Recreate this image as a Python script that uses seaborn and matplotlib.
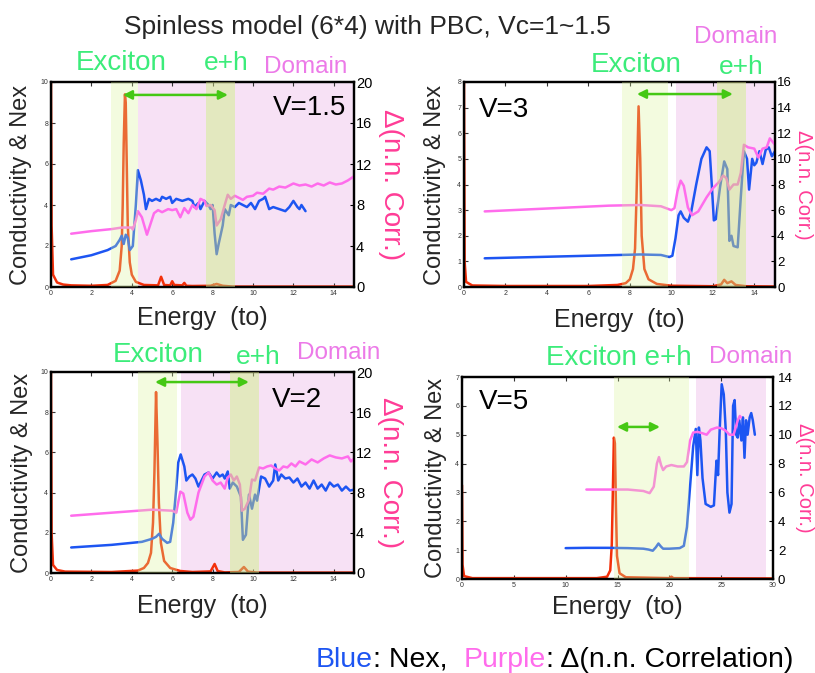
import matplotlib
matplotlib.use("Agg")
import matplotlib.pyplot as plt
import pandas as pd
import seaborn as sns

sns.set_theme(style="white")
plt.rcParams['font.family'] = ['Liberation Sans', 'DejaVu Sans']

# ---------------- data ----------------
# V = 1.5
cond_v15 = [(0, 10), (0.03, 3.0), (0.1, 0.6), (0.3, 0.22), (0.6, 0.12), (1.0, 0.08), (2.0, 0.06),
            (2.8, 0.1), (3.2, 0.3), (3.4, 0.8), (3.5, 2.0), (3.55, 4.0), (3.6, 7.0), (3.66, 9.4),
            (3.7, 9.0), (3.75, 6.0), (3.8, 3.0), (3.9, 1.2), (4.0, 0.6), (4.2, 0.25), (4.6, 0.1),
            (5.3, 0.08), (5.45, 0.5), (5.6, 0.1), (5.9, 0.08), (6.0, 0.28), (6.1, 0.1), (6.5, 0.08),
            (6.6, 0.2), (6.7, 0.06), (7.0, 0.05), (7.9, 0.06), (8.2, 0.15), (8.5, 0.06), (9.0, 0.02),
            (15.0, 0.02)]
nex_v15 = [(1.0, 1.35), (2.0, 1.55), (2.8, 1.8), (3.2, 2.0), (3.4, 2.3), (3.5, 2.5), (3.6, 2.1),
           (3.7, 2.55), (3.8, 2.4), (3.9, 1.8), (4.05, 2.0), (4.2, 4.0), (4.3, 5.7), (4.45, 5.2),
           (4.6, 4.5), (4.7, 3.8), (4.85, 4.3), (5.0, 4.2), (5.2, 4.3), (5.4, 4.2), (5.5, 4.4),
           (5.7, 4.3), (5.9, 4.4), (6.0, 4.1), (6.2, 4.3), (6.5, 4.2), (6.8, 4.3), (7.0, 4.2),
           (7.1, 3.9), (7.3, 4.1), (7.4, 3.8), (7.6, 4.2), (7.8, 4.0), (7.9, 3.8), (8.0, 4.0),
           (8.1, 2.6), (8.2, 1.6), (8.3, 2.1), (8.5, 3.0), (8.6, 3.8), (8.8, 3.5), (8.9, 4.0),
           (9.1, 3.9), (9.3, 4.1), (9.5, 4.0), (9.7, 3.9), (9.9, 4.1), (10.1, 3.8), (10.3, 4.2),
           (10.5, 4.3), (10.6, 4.4), (10.8, 3.8), (11.0, 3.9), (11.3, 3.8), (11.6, 3.7), (11.8, 3.9),
           (12.0, 4.2), (12.2, 3.9), (12.3, 3.8), (12.4, 4.0), (12.6, 3.7)]
corr_v15 = [(1.0, 5.2), (2.0, 5.45), (3.0, 5.65), (3.5, 5.8), (4.0, 5.8), (4.05, 5.6), (4.2, 6.5),
            (4.3, 7.4), (4.5, 6.8), (4.75, 5.1), (4.9, 6.0), (5.1, 7.2), (5.3, 7.5), (5.5, 7.3),
            (5.8, 7.6), (6.0, 7.5), (6.2, 7.6), (6.4, 6.8), (6.6, 7.7), (6.8, 7.2), (7.0, 8.0),
            (7.2, 7.6), (7.4, 8.6), (7.6, 8.4), (7.7, 7.9), (7.9, 8.0), (8.1, 7.5), (8.2, 6.0),
            (8.4, 6.6), (8.6, 8.0), (8.75, 9.0), (8.9, 8.6), (9.1, 8.9), (9.3, 8.7), (9.5, 8.5),
            (9.7, 8.8), (10.0, 8.9), (10.2, 9.2), (10.5, 9.1), (10.8, 9.6), (11.0, 9.5), (11.3, 9.8),
            (11.6, 9.7), (12.0, 10.1), (12.3, 9.9), (12.6, 10.0), (12.9, 9.8), (13.2, 10.1),
            (13.5, 9.9), (13.8, 10.2), (14.1, 10.0), (14.4, 10.1), (14.7, 10.4), (15.0, 10.8)]

# V = 3
cond_v3 = [(0, 8.0), (0.03, 1.0), (0.1, 0.2), (0.4, 0.06), (2.0, 0.04), (6.0, 0.04), (7.4, 0.08),
           (7.8, 0.15), (8.0, 0.3), (8.15, 0.7), (8.25, 1.5), (8.32, 3.5), (8.42, 7.05), (8.5, 5.0),
           (8.57, 2.0), (8.7, 0.7), (8.9, 0.3), (9.3, 0.12), (10.0, 0.05), (12.0, 0.03), (12.4, 0.1),
           (12.55, 0.28), (12.7, 0.15), (12.9, 0.22), (13.1, 0.08), (13.6, 0.03), (15.0, 0.02)]
nex_v3 = [(1.0, 1.12), (3.0, 1.16), (5.0, 1.2), (7.0, 1.24), (8.5, 1.27), (9.5, 1.25), (9.9, 1.17),
          (10.05, 1.22), (10.2, 1.9), (10.35, 2.8), (10.45, 2.95), (10.6, 2.7), (10.8, 2.55),
          (10.95, 2.9), (11.2, 4.0), (11.45, 5.0), (11.7, 5.45), (11.85, 5.3), (11.95, 4.0),
          (12.05, 2.6), (12.15, 2.65), (12.35, 3.9), (12.55, 4.9), (12.7, 4.6), (12.8, 1.8),
          (12.9, 2.0), (13.0, 1.6), (13.2, 1.55), (13.35, 3.5), (13.5, 5.3), (13.65, 5.0),
          (13.75, 3.8), (13.9, 5.0), (14.0, 4.75), (14.1, 4.85), (14.25, 5.3), (14.4, 4.8),
          (14.55, 5.35), (14.7, 5.45), (14.85, 5.1), (15.0, 5.3)]
corr_v3 = [(1.0, 5.9), (3.0, 6.05), (5.0, 6.2), (7.0, 6.35), (8.5, 6.4), (9.5, 6.3), (10.0, 6.0),
           (10.15, 6.15), (10.3, 7.5), (10.45, 8.3), (10.6, 7.9), (10.8, 6.2), (11.0, 5.6),
           (11.3, 5.9), (11.7, 7.0), (12.0, 7.7), (12.3, 8.2), (12.5, 8.7), (12.65, 8.5),
           (12.8, 7.6), (13.0, 8.0), (13.2, 8.0), (13.35, 8.9), (13.5, 11.1), (13.7, 10.9),
           (14.0, 10.8), (14.2, 10.1), (14.4, 10.8), (14.6, 10.9), (14.75, 11.6), (15.0, 11.1)]

# V = 2
cond_v2 = [(0, 10), (0.03, 2.0), (0.1, 0.4), (0.3, 0.15), (0.7, 0.07), (3.0, 0.05), (4.3, 0.12),
           (4.6, 0.25), (4.8, 0.5), (4.95, 1.0), (5.05, 2.5), (5.12, 5.0), (5.2, 9.0), (5.27, 6.5),
           (5.34, 3.5), (5.44, 1.5), (5.6, 0.6), (5.9, 0.25), (6.4, 0.1), (7.0, 0.05), (7.9, 0.08),
           (8.1, 0.45), (8.25, 0.1), (8.6, 0.03), (9.3, 0.05), (9.55, 0.3), (9.75, 0.07),
           (10.2, 0.02), (15.0, 0.02)]
nex_v2 = [(1.0, 1.27), (3.0, 1.4), (4.5, 1.55), (5.0, 1.7), (5.2, 1.8), (5.35, 1.95), (5.5, 1.7),
          (5.75, 1.5), (5.9, 1.55), (6.05, 2.5), (6.2, 4.2), (6.3, 5.5), (6.42, 5.9), (6.6, 5.3),
          (6.7, 4.6), (6.85, 4.8), (7.0, 4.9), (7.15, 4.7), (7.3, 4.3), (7.45, 4.6), (7.6, 4.9),
          (7.8, 5.0), (8.0, 4.7), (8.2, 5.0), (8.35, 4.8), (8.5, 4.9), (8.6, 4.7), (8.75, 5.05),
          (8.85, 4.2), (9.0, 4.5), (9.2, 4.3), (9.4, 3.8), (9.5, 1.65), (9.65, 1.9), (9.8, 3.9),
          (9.95, 3.2), (10.1, 3.9), (10.2, 3.6), (10.4, 4.8), (10.6, 4.7), (10.8, 4.3), (11.0, 4.6),
          (11.1, 5.4), (11.25, 4.6), (11.4, 4.9), (11.6, 4.7), (11.8, 4.75), (12.0, 4.5),
          (12.2, 4.7), (12.4, 4.3), (12.6, 4.5), (12.8, 4.2), (13.0, 4.6), (13.2, 4.2), (13.4, 4.4),
          (13.6, 4.1), (13.8, 4.5), (14.0, 4.3), (14.2, 4.4), (14.4, 4.1), (14.6, 4.3), (14.8, 4.1),
          (15.0, 4.15)]
corr_v2 = [(1.0, 5.7), (3.0, 6.0), (5.0, 6.3), (6.0, 6.2), (6.2, 6.0), (6.4, 8.1), (6.55, 7.9),
           (6.75, 6.0), (6.9, 5.3), (7.05, 5.6), (7.3, 8.0), (7.6, 9.6), (7.8, 10.0), (8.0, 9.2),
           (8.2, 8.8), (8.4, 9.0), (8.6, 8.4), (8.75, 9.5), (8.9, 9.8), (9.05, 9.2), (9.2, 9.6),
           (9.35, 8.8), (9.45, 6.2), (9.6, 6.4), (9.8, 7.3), (9.95, 9.3), (10.1, 9.2), (10.3, 10.5),
           (10.5, 10.4), (10.7, 10.6), (10.9, 10.7), (11.1, 10.4), (11.3, 10.2), (11.5, 10.6),
           (11.7, 10.5), (11.9, 10.9), (12.1, 10.6), (12.3, 11.1), (12.6, 10.8), (12.9, 11.3),
           (13.2, 11.0), (13.5, 11.4), (13.8, 11.7), (14.1, 11.5), (14.4, 11.4), (14.7, 11.6),
           (14.85, 11.1), (15.0, 11.4)]

# V = 5
cond_v5 = [(0, 3.25), (0.05, 0.5), (0.2, 0.1), (1.0, 0.03), (13.0, 0.03), (14.0, 0.08), (14.3, 0.3),
           (14.45, 1.2), (14.55, 3.0), (14.65, 4.9), (14.75, 4.7), (14.85, 2.5), (14.95, 0.8),
           (15.2, 0.2), (15.8, 0.06), (20.0, 0.03), (20.2, 0.08), (20.4, 0.03), (30.0, 0.02)]
nex_v5 = [(10.0, 1.07), (12.0, 1.08), (14.0, 1.08), (16.0, 1.07), (17.5, 1.05), (18.0, 1.02),
          (18.4, 0.98), (18.7, 1.1), (18.95, 1.23), (19.2, 1.12), (19.4, 1.05), (20.0, 1.05),
          (21.0, 1.07), (21.4, 1.15), (21.7, 1.8), (22.0, 3.2), (22.3, 4.6), (22.55, 5.2),
          (22.7, 3.6), (22.85, 5.25), (23.0, 4.8), (23.2, 3.5), (23.5, 2.6), (24.0, 2.5),
          (24.3, 2.55), (24.45, 3.5), (24.55, 4.1), (24.7, 3.6), (24.85, 5.1), (25.05, 6.75),
          (25.25, 6.4), (25.45, 5.1), (25.6, 3.0), (25.8, 2.3), (26.0, 2.6), (26.15, 6.0),
          (26.3, 6.2), (26.45, 5.0), (26.6, 4.9), (26.75, 5.5), (26.95, 4.8), (27.1, 5.6),
          (27.25, 4.2), (27.4, 5.5), (27.55, 5.0), (27.75, 5.6), (27.9, 5.75), (28.05, 5.5),
          (28.25, 5.0)]
corr_v5 = [(12.0, 6.2), (14.0, 6.2), (16.0, 6.2), (17.5, 6.1), (18.1, 5.95), (18.5, 6.4),
           (18.8, 8.0), (19.0, 8.45), (19.2, 7.9), (19.4, 7.55), (19.7, 7.8), (20.2, 7.9),
           (20.8, 7.8), (21.4, 7.8), (21.7, 8.1), (22.0, 9.6), (22.3, 10.15), (22.7, 10.2),
           (23.2, 10.1), (23.6, 10.0), (24.0, 10.35), (24.6, 10.5), (25.0, 10.45), (25.4, 10.3),
           (25.8, 10.0), (26.2, 10.0), (26.4, 10.5), (26.6, 11.0), (26.8, 11.3), (26.9, 11.2)]

# energy bands (exciton, domain pieces, e+h) and arrow spans
bands_v15 = dict(exciton=(2.97, 4.31), domain=[(4.31, 7.67), (9.11, 15.0)], eh=(7.67, 9.11))
bands_v3 = dict(exciton=(7.62, 9.84), domain=[(10.22, 12.2), (13.6, 15.0)], eh=(12.2, 13.6))
bands_v2 = dict(exciton=(4.31, 6.24), domain=[(6.44, 8.86), (10.3, 15.0)], eh=(8.86, 10.3))
bands_v5 = dict(exciton=(14.66, 21.9), domain=[(22.57, 29.3)], eh=None)
arrow_v15 = (3.56, 8.76, 9.37)
arrow_v3 = (8.34, 12.97, 7.53)
arrow_v2 = (5.15, 9.8, 9.5)
arrow_v5 = (14.95, 19.1, 5.27)

title_text = "Spinless model (6*4) with PBC, Vc=1~1.5"

# ---------------- styling ----------------
W, H = 815, 673
RED = "#f3300a"
BLUE = "#1d55f2"
PINK = "#ff6cec"
GREEN_TXT = "#3cec7a"
DOMAIN_TXT = "#ec7ae8"
ARROW = "#45c814"
DOMAIN_BG = "#f7e1f5"
EXC_OVER = "#d8f298"   # alpha 0.3 over white -> #f4fbe0
EH_OVER = "#c9d381"    # alpha 0.5 over white -> #e4e9c0
RLAB = "#ff3c96"


def px(x, y):
    return x / W, 1 - y / H


def to_df(pairs):
    return pd.DataFrame(pairs, columns=["E", "v"])


panels = [
    dict(rect=(51, 82, 354, 287), cond=cond_v15, nex=nex_v15, corr=corr_v15, bands=bands_v15,
         arrow=arrow_v15, xlim=(0, 15), xt=range(0, 16, 2), yl=(0, 10), ylt=range(0, 11, 2),
         yr=(0, 20), yrt=range(0, 21, 4), label="V=1.5", lab_xy=(310, 108),
         texts=[("Exciton", 121, 63, GREEN_TXT, 20), ("e+h", 226, 63, GREEN_TXT, 19),
                ("Domain", 306, 67, DOMAIN_TXT, 17.5)],
         ylab_x=-0.099, rlab_x=1.122, rlab_fs=20, rtick_fs=10.5, rtick_pad=1.5, xlab_y=-0.151),
    dict(rect=(464, 82, 775, 287), cond=cond_v3, nex=nex_v3, corr=corr_v3, bands=bands_v3,
         arrow=arrow_v3, xlim=(0, 15), xt=range(0, 16, 2), yl=(0, 8), ylt=range(0, 9, 1),
         yr=(0, 16), yrt=range(0, 17, 2), label="V=3", lab_xy=(504, 110),
         texts=[("Exciton", 636, 65, GREEN_TXT, 20), ("e+h", 741, 67, GREEN_TXT, 19),
                ("Domain", 736, 37, DOMAIN_TXT, 17.5)],
         ylab_x=-0.093, rlab_x=1.093, rlab_fs=14.5, rtick_fs=9.5, rtick_pad=1.5, xlab_y=-0.161),
    dict(rect=(51, 372, 354, 573), cond=cond_v2, nex=nex_v2, corr=corr_v2, bands=bands_v2,
         arrow=arrow_v2, xlim=(0, 15), xt=range(0, 16, 2), yl=(0, 10), ylt=range(0, 11, 2),
         yr=(0, 20), yrt=range(0, 21, 4), label="V=2", lab_xy=(297, 400),
         texts=[("Exciton", 158, 355, GREEN_TXT, 20), ("e+h", 258, 357, GREEN_TXT, 19),
                ("Domain", 339, 353, DOMAIN_TXT, 17.5)],
         ylab_x=-0.096, rlab_x=1.119, rlab_fs=20, rtick_fs=10.5, rtick_pad=1.5, xlab_y=-0.164),
    dict(rect=(462, 377, 773, 579), cond=cond_v5, nex=nex_v5, corr=corr_v5, bands=bands_v5,
         arrow=arrow_v5, xlim=(0, 30), xt=range(0, 31, 5), yl=(0, 7), ylt=range(0, 8, 1),
         yr=(0, 14), yrt=range(0, 15, 2), label="V=5", lab_xy=(504, 402),
         texts=[("Exciton e+h", 619, 358, GREEN_TXT, 20), ("Domain", 751, 357, DOMAIN_TXT, 17.5)],
         ylab_x=-0.084, rlab_x=1.1, rlab_fs=14.5, rtick_fs=9.5, rtick_pad=3.5, xlab_y=-0.139),
]

fig = plt.figure(figsize=(W / 100, H / 100), dpi=100)

for p in panels:
    x0, y0, x1, y1 = p["rect"]
    ax = fig.add_axes([x0 / W, 1 - y1 / H, (x1 - x0) / W, (y1 - y0) / H])
    ax2 = ax.twinx()
    ax.set_facecolor("white")

    for a, b in p["bands"]["domain"]:
        ax.axvspan(a, b, color=DOMAIN_BG, lw=0, zorder=0)

    sns.lineplot(data=to_df(p["cond"]), x="E", y="v", ax=ax, color=RED, lw=1.8,
                 estimator=None, sort=False, zorder=2)
    sns.lineplot(data=to_df(p["nex"]), x="E", y="v", ax=ax, color=BLUE, lw=1.8,
                 estimator=None, sort=False, zorder=3)
    sns.lineplot(data=to_df(p["corr"]), x="E", y="v", ax=ax2, color=PINK, lw=1.8,
                 estimator=None, sort=False, zorder=2)

    ea, eb = p["bands"]["exciton"]
    ax2.axvspan(ea, eb, color=EXC_OVER, alpha=0.3, lw=0, zorder=5)
    if p["bands"]["eh"] is not None:
        ha_, hb_ = p["bands"]["eh"]
        ax2.axvspan(ha_, hb_, color=EH_OVER, alpha=0.5, lw=0, zorder=5)

    ax0, ax1_, ay = p["arrow"]
    ax2.annotate("", xy=(ax1_, ay), xytext=(ax0, ay), xycoords=ax.transData,
                 textcoords=ax.transData,
                 arrowprops=dict(arrowstyle="<|-|>", color=ARROW, lw=1.8,
                                 mutation_scale=13, shrinkA=0, shrinkB=0), zorder=6)

    ax.set_xlim(*p["xlim"])
    ax.set_ylim(*p["yl"])
    ax2.set_ylim(*p["yr"])
    ax.set_xticks(list(p["xt"]))
    ax.set_yticks(list(p["ylt"]))
    ax2.set_yticks(list(p["yrt"]))

    ax.tick_params(axis="both", direction="in", length=3, width=0.8, labelsize=5,
                   top=True, bottom=True, left=True, right=False, pad=2, colors="#333333",
                   labelcolor="#333333")
    ax2.tick_params(axis="y", direction="in", length=3, width=0.8, labelsize=p["rtick_fs"],
                    pad=p["rtick_pad"], colors="black")
    for a in (ax, ax2):
        for s in a.spines.values():
            s.set_linewidth(1.6)
            s.set_color("black")

    ax.set_xlabel("Energy  (to)", fontsize=18, va="center")
    ax.xaxis.set_label_coords(0.5, p["xlab_y"])
    ax.set_ylabel("Conductivity & Nex", fontsize=17, va="center")
    ax.yaxis.set_label_coords(p["ylab_x"], 0.5)
    ax2.set_ylabel("Δ(n.n. Corr.)", fontsize=p["rlab_fs"], color=RLAB, rotation=270,
                   va="center", ha="center")
    ax2.yaxis.set_label_coords(p["rlab_x"], 0.5)

    lx, ly = p["lab_xy"]
    fig.text(*px(lx, ly), p["label"], fontsize=20, ha="center", va="center", color="black")
    for s, tx, ty, c, fs in p["texts"]:
        fig.text(*px(tx, ty), s, fontsize=fs, ha="center", va="center", color=c)

fig.text(*px(367, 27), title_text, fontsize=19, ha="center", va="center")

renderer = fig.canvas.get_renderer()
pieces = [("Blue", BLUE), (": Nex,  ", "black"), ("Purple", PINK),
          (": Δ(n.n. Correlation)", "black")]
cx = 316
for s, c in pieces:
    t = fig.text(cx / W, 1 - 660 / H, s, fontsize=20.5, ha="left", va="center", color=c)
    cx += t.get_window_extent(renderer=renderer).width

fig.savefig("out.png", dpi=100)
